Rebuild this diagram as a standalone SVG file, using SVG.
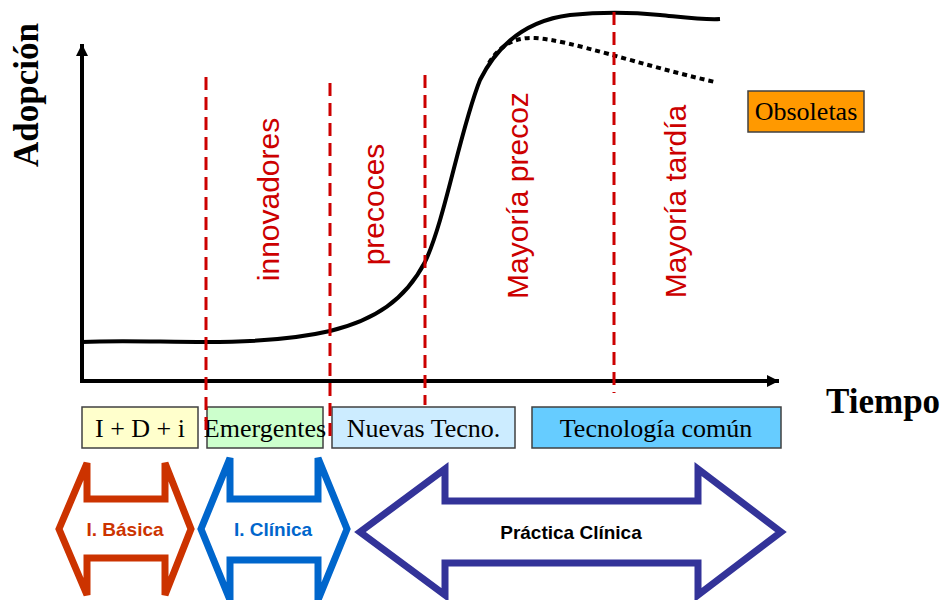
<svg xmlns="http://www.w3.org/2000/svg" width="943" height="600" viewBox="0 0 943 600">
<style>
.axis{stroke:#000;stroke-width:4;fill:none}
.curve{stroke:#000;stroke-width:4;fill:none}
.dotted{stroke:#000;stroke-width:4;fill:none;stroke-dasharray:5 4}
.dash{stroke:#CC0000;stroke-width:3;fill:none;stroke-dasharray:13 7}
.phase{font-family:"Liberation Sans",Arial,sans-serif;font-size:30px;fill:#CC0000}
.ttl{font-family:"Liberation Serif","Times New Roman",serif;font-size:35px;font-weight:bold;fill:#000}
.box rect{stroke:#404040;stroke-width:1.5}
.box text{font-family:"Liberation Serif","Times New Roman",serif;font-size:26px;fill:#000;text-anchor:middle}
.arr polygon{fill:#fff;stroke-width:7;stroke-linejoin:miter}
.arr text{font-family:"Liberation Sans",Arial,sans-serif;font-size:19px;font-weight:bold;text-anchor:middle}
</style>
<defs>
<marker id="ah" viewBox="0 0 12 12" refX="12" refY="6" markerWidth="12" markerHeight="12" markerUnits="userSpaceOnUse" orient="auto">
<path d="M0,0 L12,6 L0,12 Z" fill="#000"/>
</marker>
</defs>

<g id="axes">
<path class="axis" d="M82,381 L82,44" marker-end="url(#ah)"/>
<path class="axis" d="M80,381 L779,381" marker-end="url(#ah)"/>
<text class="ttl" transform="translate(38,167) rotate(-90)">Adopción</text>
<text class="ttl" x="826" y="413">Tiempo</text>
</g>

<g id="curves">
<path class="curve" d="M82,342 C120,340 160,342 206,342 C260,342 300,338 330,331 C375,320 405,300 425,262 C445,220 460,130 480,80 C500,40 530,20 570,15 C600,12 630,12 660,15 C690,18 705,20 720,19"/>
<path class="dotted" d="M489,63 C500,45 515,37 535,38 C570,40 640,65 715,82"/>
</g>

<g id="boxes">
<g id="box-idi" class="box"><rect x="82" y="407" width="116" height="41" fill="#FFFFCC"/><text x="140" y="437">I + D + i</text></g>
<g id="box-emergentes" class="box"><rect x="207" y="407" width="116" height="41" fill="#CCFFCC"/><text x="265" y="437">Emergentes</text></g>
<g id="box-nuevas" class="box"><rect x="332" y="407" width="183" height="41" fill="#CCECFF"/><text x="423.5" y="437">Nuevas Tecno.</text></g>
<g id="box-comun" class="box"><rect x="532" y="407" width="249" height="41" fill="#66CCFF"/><text x="656" y="437">Tecnología común</text></g>
<g id="box-obsoletas" class="box"><rect x="748" y="91" width="116" height="41" fill="#FF9900"/><text x="806" y="120">Obsoletas</text></g>
</g>

<g id="dividers">
<line class="dash" x1="206" y1="77" x2="206" y2="437"/>
<line class="dash" x1="330" y1="83" x2="330" y2="438"/>
<line class="dash" x1="425" y1="75" x2="425" y2="405"/>
<line class="dash" x1="614" y1="12" x2="614" y2="393"/>
</g>

<g id="phases">
<text class="phase" text-anchor="middle" transform="translate(279,199.5) rotate(-90)">innovadores</text>
<text class="phase" text-anchor="middle" transform="translate(384,204.5) rotate(-90)">precoces</text>
<text class="phase" text-anchor="middle" transform="translate(528,195.5) rotate(-90)">Mayoría precoz</text>
<text class="phase" text-anchor="middle" transform="translate(686,201.5) rotate(-90)">Mayoría tardía</text>
</g>

<g id="arrow-basica" class="arr">
<polygon points="59,529 87,463 87,499 165,499 165,463 191,529 165,595 165,558 87,558 87,595" stroke="#CC3300"/>
<text x="125" y="536" fill="#CC3300">I. Básica</text>
</g>
<g id="arrow-clinica" class="arr">
<polygon points="201,529 230,458 230,499 318,499 318,458 347,529 318,600 318,560 230,560 230,600" stroke="#0066CC"/>
<text x="273" y="536" fill="#0066CC">I. Clínica</text>
</g>
<g id="arrow-practica" class="arr">
<polygon points="360,532 445,469 445,501 698,501 698,469 781,532 698,595 698,563 445,563 445,595" stroke="#333399" stroke-width="6"/>
<text x="571" y="539" fill="#000">Práctica Clínica</text>
</g>
</svg>
